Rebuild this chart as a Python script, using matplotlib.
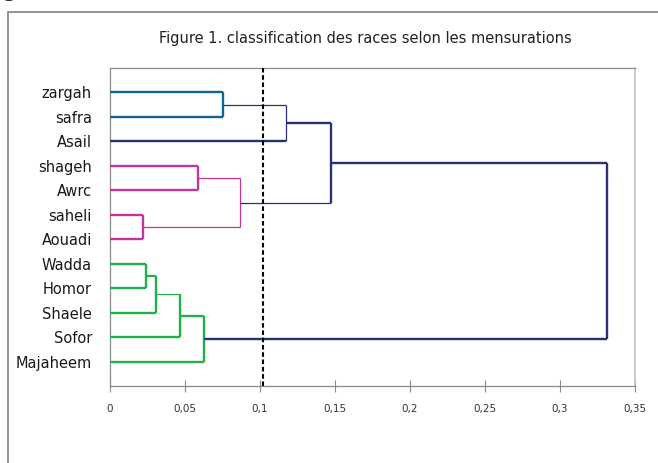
# coding: utf-8

import matplotlib
matplotlib.use("Agg")
import matplotlib.pyplot as plt
from matplotlib.patches import Rectangle
from matplotlib.ticker import FuncFormatter

# leaves, top to bottom
labels = ['zargah', 'safra', 'Asail', 'shageh', 'Awrc', 'saheli', 'Aouadi',
          'Wadda', 'Homor', 'Shaele', 'Sofor', 'Majaheem']

# merges: name, left child, right child, distance
merge_name = ['A', 'B', 'C', 'D', 'E', 'F', 'G', 'H', 'I', 'J', 'K']
merge_left = ['zargah', 'A', 'shageh', 'saheli', 'C', 'B', 'Wadda', 'G', 'H', 'I', 'F']
merge_right = ['safra', 'Asail', 'Awrc', 'Aouadi', 'D', 'E', 'Homor', 'Shaele', 'Sofor', 'Majaheem', 'J']
merge_height = [0.0756, 0.117, 0.0584, 0.0218, 0.0867, 0.147, 0.0238, 0.0307, 0.0469, 0.0627, 0.331]

cut_level = 0.102
x_ticks = [0, 0.05, 0.1, 0.15, 0.2, 0.25, 0.3, 0.35]

BLUE = '#12659a'
NAVY = '#2b2f78'
PINK = '#c4359c'
GREEN = '#1fb04a'
cluster_color = {'A': BLUE, 'C': PINK, 'D': PINK, 'E': PINK,
                 'G': GREEN, 'H': GREEN, 'I': GREEN, 'J': GREEN}
# the Excel original mixes line widths, these links are drawn thin
thin_links = {('A', 'B'), ('C', 'E'), ('D', 'E'), ('E', 'F'), ('H', 'I')}
thin_verticals = {'B', 'E'}
THICK, THIN = 1.7, 0.9

fig = plt.figure(figsize=(6.58, 4.63), dpi=100)
W, H = 658.0, 463.0
ax = fig.add_axes([110 / W, 1 - 386 / H, 525 / W, 318 / H])

# outer chart frame, cut off at the right and bottom of the picture
fig.patches.append(Rectangle((8 / W, -0.1), 1.2, 1.1 - 12 / H, transform=fig.transFigure,
                             fill=False, edgecolor='#8a8a8a', lw=1.3, clip_on=False))
# bottom of a letter from the text above the chart, cropped in the original
fig.text(2 / W, 1 + 3 / H, 'g', fontsize=14, fontweight='bold', va='baseline', color='#222222')

pos = {}
for i, lab in enumerate(labels):
    pos[lab] = (0.0, i + 1)

for name, left, right, h in zip(merge_name, merge_left, merge_right, merge_height):
    col = cluster_color.get(name, NAVY)
    ys = []
    for child in (left, right):
        cx, cy = pos[child]
        lw = THIN if (child, name) in thin_links else THICK
        ax.plot([cx, h], [cy, cy], color=col, lw=lw, solid_capstyle='butt', zorder=3)
        ys.append(cy)
    lw = THIN if name in thin_verticals else THICK
    ax.plot([h, h], ys, color=col, lw=lw, solid_capstyle='butt', zorder=3)
    pos[name] = (h, sum(ys) / 2)

ax.axvline(cut_level, color='black', lw=1.5, linestyle=(0, (2.2, 1.3)), zorder=4)

ax.set_xlim(0, 0.35)
ax.set_ylim(len(labels) + 1, 0)
ax.set_xticks(x_ticks)
ax.xaxis.set_major_formatter(FuncFormatter(lambda v, p: ('%g' % round(v, 2)).replace('.', ',')))
ax.tick_params(axis='x', direction='inout', length=8, width=0.8, color='#8a8a8a',
               labelsize=7.5, labelcolor='#333333', pad=9)
ax.set_yticks(range(1, len(labels) + 1))
ax.set_yticklabels(labels)
ax.tick_params(axis='y', length=0, labelsize=10.5, labelcolor='#1a1a1a', pad=13)

for side in ('top', 'left', 'bottom'):
    ax.spines[side].set_color('#8a8a8a')
    ax.spines[side].set_linewidth(0.9)
ax.spines['right'].set_color('#c4c4c4')
ax.spines['right'].set_linewidth(1.2)

fig.text(365 / W, 1 - 38 / H, 'Figure 1. classification des races selon les mensurations',
         ha='center', va='center', fontsize=10.5, color='#222222')

fig.savefig('out.png', dpi=100)
